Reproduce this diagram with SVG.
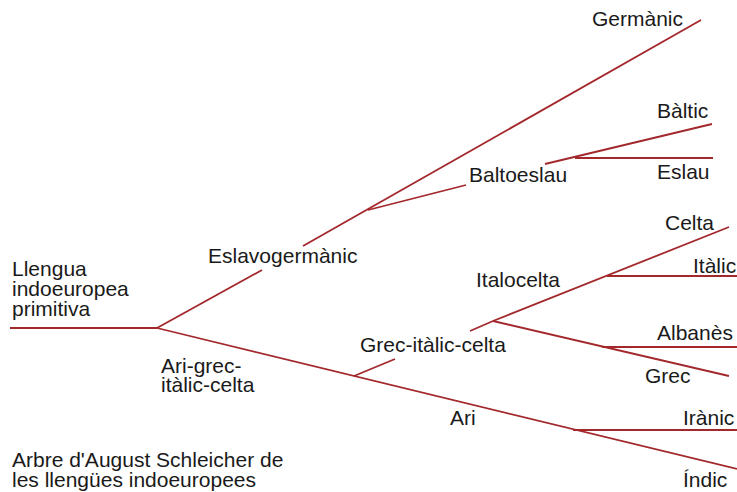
<svg xmlns="http://www.w3.org/2000/svg" width="737" height="492" viewBox="0 0 737 492">
<style>
.l{stroke:#a3282c;stroke-width:1.8;fill:none;stroke-linecap:butt}
text{font-family:"Liberation Sans",Arial,sans-serif;font-size:21px;fill:#1a1a1a}
</style>
<rect width="737" height="492" fill="#ffffff"/>
<g id="connectors">
<line class="l" x1="10" y1="328" x2="157" y2="328"/>
<line class="l" x1="157" y1="328" x2="262" y2="270"/>
<line class="l" x1="303" y1="246" x2="701" y2="20"/>
<line class="l" x1="368" y1="210" x2="466" y2="185"/>
<line class="l" x1="545" y1="164" x2="712" y2="124"/>
<line class="l" x1="575" y1="158" x2="713" y2="158"/>
<line class="l" x1="157" y1="328" x2="737" y2="469"/>
<line class="l" x1="573" y1="430" x2="737" y2="430"/>
<line class="l" x1="354" y1="376" x2="395" y2="359"/>
<line class="l" x1="470" y1="331" x2="493" y2="321"/>
<line class="l" x1="493" y1="321" x2="729" y2="227"/>
<line class="l" x1="607" y1="276" x2="737" y2="276"/>
<line class="l" x1="493" y1="321" x2="729" y2="376"/>
<line class="l" x1="602" y1="347" x2="737" y2="347"/>
</g>
<g id="root"><text x="12" y="276">Llengua</text><text x="12" y="296">indoeuropea</text><text x="12" y="316">primitiva</text></g>
<g id="eslavogermanic"><text x="208" y="263">Eslavogermànic</text></g>
<g id="germanic"><text x="592" y="26">Germànic</text></g>
<g id="baltoeslau"><text x="469" y="182">Baltoeslau</text></g>
<g id="baltic"><text x="657" y="118">Bàltic</text></g>
<g id="eslau"><text x="657" y="179">Eslau</text></g>
<g id="arigrec"><text x="161" y="373">Ari-grec-</text><text x="161" y="392">itàlic-celta</text></g>
<g id="grecitaliccelta"><text x="360" y="352">Grec-itàlic-celta</text></g>
<g id="italocelta"><text x="476" y="287">Italocelta</text></g>
<g id="celta"><text x="665" y="230">Celta</text></g>
<g id="italic"><text x="693" y="273">Itàlic</text></g>
<g id="albanes"><text x="657" y="340">Albanès</text></g>
<g id="grec"><text x="645" y="383">Grec</text></g>
<g id="ari"><text x="450" y="425">Ari</text></g>
<g id="iranic"><text x="683" y="425">Irànic</text></g>
<g id="indic"><text x="683" y="487">Índic</text></g>
<g id="caption"><text x="12" y="467">Arbre d'August Schleicher de</text><text x="12" y="487">les llengües indoeuropees</text></g>
</svg>
